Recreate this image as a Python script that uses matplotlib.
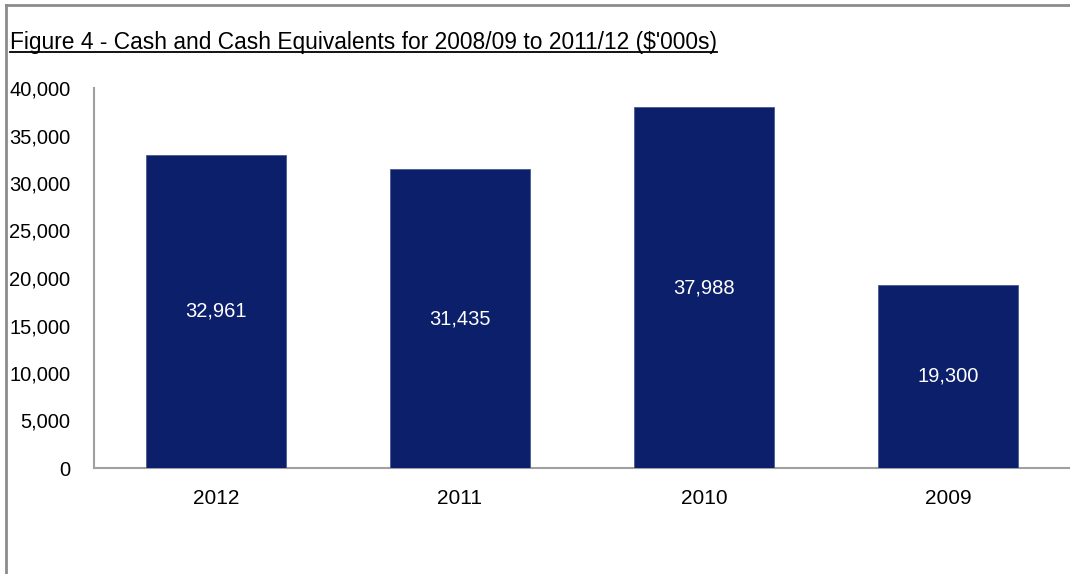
import matplotlib
matplotlib.use("Agg")
import matplotlib.pyplot as plt
from matplotlib.lines import Line2D
from matplotlib.ticker import FuncFormatter

categories = ["2012", "2011", "2010", "2009"]
values = [32961, 31435, 37988, 19300]
value_labels = ["32,961", "31,435", "37,988", "19,300"]
yticks = [0, 5000, 10000, 15000, 20000, 25000, 30000, 35000, 40000]
title = "Figure 4 - Cash and Cash Equivalents for 2008/09 to 2011/12 ($'000s)"

FONT = ["Liberation Sans Narrow", "Liberation Sans", "DejaVu Sans"]
plt.rcParams["font.family"] = FONT

W, H = 1070, 574
fig = plt.figure(figsize=(W / 100, H / 100), dpi=100)

# frame lines (left and top) of the chart box
fig.add_artist(Line2D([6 / W, 6 / W], [0, 1 - 5 / H], color="#8c8c8c", lw=2, transform=fig.transFigure))
fig.add_artist(Line2D([6 / W, 1], [1 - 5 / H, 1 - 5 / H], color="#8c8c8c", lw=2, transform=fig.transFigure))

ax = fig.add_axes([94 / W, 1 - 468 / H, (1070 - 94) / W, (468 - 88) / H])
x = range(len(categories))
bars = ax.bar(x, values, width=0.57, color="#0c1f6a", edgecolor="#4a5a8f", linewidth=0.6, zorder=3)
for xi, v, lab in zip(x, values, value_labels):
    ax.text(xi, v / 2, lab, ha="center", va="center", color="white", fontsize=14.5)

ax.set_xlim(-0.5, 3.5)
ax.set_ylim(0, 40000)
ax.set_yticks(yticks)
ax.yaxis.set_major_formatter(FuncFormatter(lambda v, p: f"{int(v):,}"))
ax.set_xticks(list(x))
ax.set_xticklabels(categories)
ax.tick_params(axis="y", length=0, pad=17, labelsize=14.5)
ax.tick_params(axis="x", length=0, pad=15, labelsize=15)
for s in ["top", "right"]:
    ax.spines[s].set_visible(False)
for s in ["left", "bottom"]:
    ax.spines[s].set_color("#a0a0a0")
    ax.spines[s].set_linewidth(1.5)

t = fig.text(10 / W, 1 - 49 / H, title, ha="left", va="baseline", fontsize=16.4, color="black")
fig.canvas.draw()
bb = t.get_window_extent()
yline = 1 - 52 / H
fig.add_artist(Line2D([bb.x0 / W, bb.x1 / W], [yline, yline], color="black", lw=1.3, transform=fig.transFigure))

fig.savefig("out.png", dpi=100)
